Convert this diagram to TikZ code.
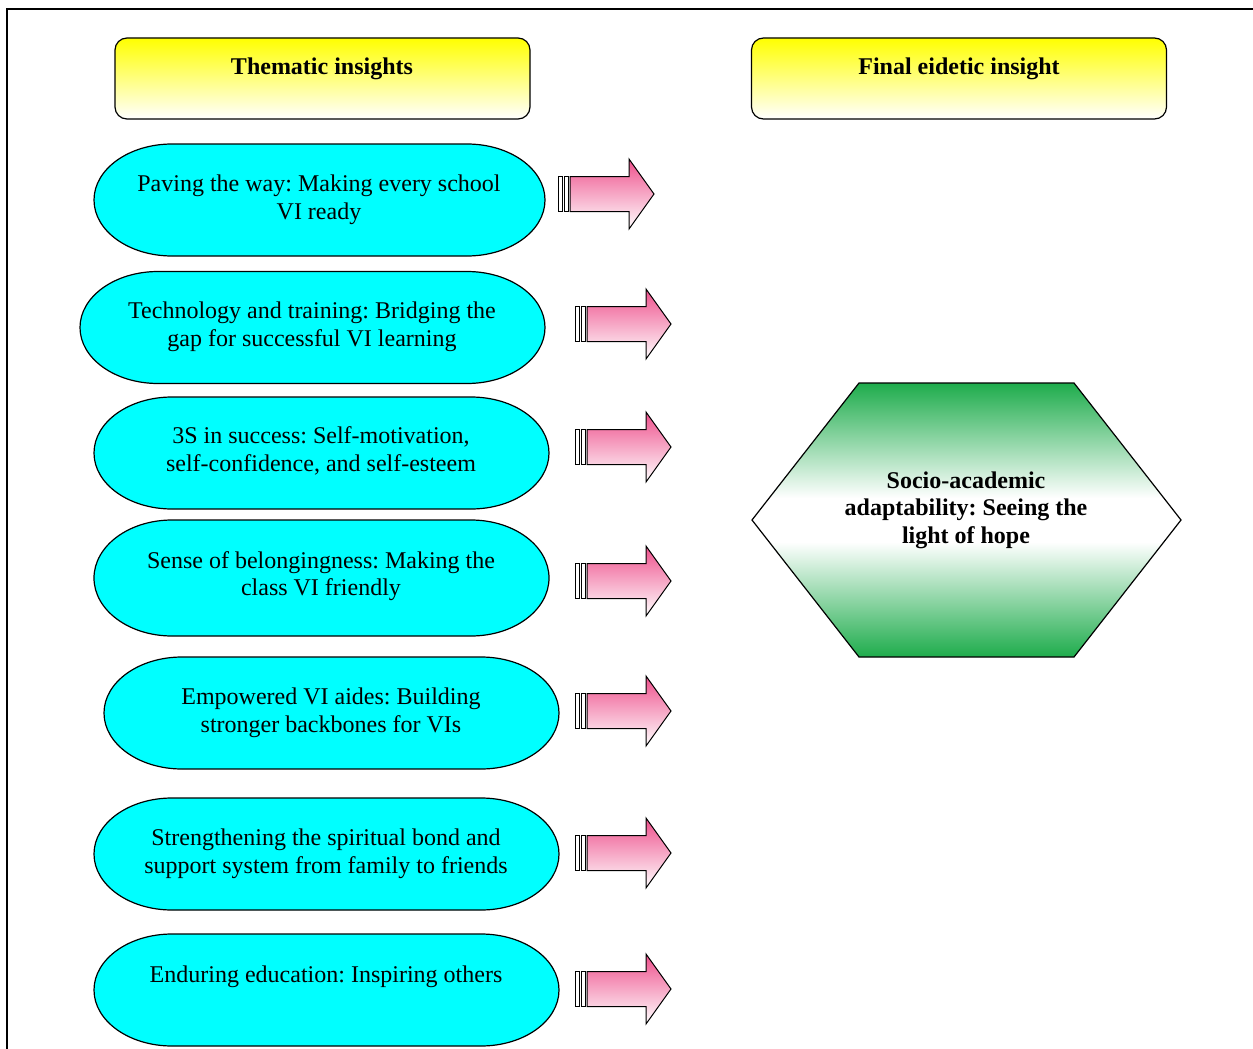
\documentclass[tikz,border=0pt]{standalone}
\usepackage{fontspec}
\setmainfont{Liberation Serif}
\frenchspacing
\definecolor{cyanfill}{RGB}{0,255,255}
\definecolor{hexgreen}{RGB}{30,172,76}
\definecolor{arrowpink}{RGB}{238,80,140}
\pgfdeclareverticalshading{hexshade}{100bp}{color(0bp)=(hexgreen); color(25bp)=(hexgreen); color(46bp)=(white); color(54bp)=(white); color(75bp)=(hexgreen); color(100bp)=(hexgreen)}
\newcommand\stadiumpath[3]{%
  \draw[stadiumline] ([xshift=78pt]#1.north west) -- ([xshift=-78pt]#1.north east)
    arc[start angle=90,end angle=-90,x radius=78pt,y radius=#2]
    -- ([xshift=78pt]#1.south west)
    arc[start angle=-90,end angle=-270,x radius=78pt,y radius=#3] -- cycle;}
\begin{document}
\begin{tikzpicture}[x=1pt,y=-1pt,
  stadiumline/.style={line width=1.2pt, fill=cyanfill},
  slot/.style={draw=none, inner sep=0pt, outer sep=0pt},
  itext/.style={align=center, inner sep=0pt, font=\fontsize{24}{27.6}\selectfont},
  htext/.style={align=center, inner sep=0pt, font=\bfseries\fontsize{24}{27.6}\selectfont},
  header/.style={draw, line width=1.2pt, rounded corners=12pt, top color=yellow, bottom color=white,
    minimum width=415pt, minimum height=81pt, inner sep=0pt},
  blockarrow/.pic={
    \shadedraw[top color=arrowpink, bottom color=white, line width=1pt]
      (12,-17.5) -- (71,-17.5) -- (71,-35) -- (96,0) -- (71,35) -- (71,17.5) -- (12,17.5) -- cycle;
    \draw[line width=1pt, fill=white] (0,-17.5) rectangle (4,17.5);
    \draw[line width=1pt, fill=white] (6,-17.5) rectangle (10,17.5);
  }]
\useasboundingbox (0,0) rectangle (1253,1049);
% frame
\draw[line width=1.5pt] (7,1049) -- (7,9) -- (1253,9);

% headers
\node[header] (h1) at (322.5,78.5) {};
\node[htext] (h1t) at (322,69) {Thematic insights};
\node[header] (h2) at (959,78.5) {};
\node[htext] (h2t) at (959,69) {Final eidetic insight};

% insight shapes
\node[slot, minimum width=451pt, minimum height=112pt] (s1) at (319.5,200) {};
\node[slot, minimum width=465pt, minimum height=112pt] (s2) at (312.5,327.5) {};
\node[slot, minimum width=455pt, minimum height=112pt] (s3) at (321.5,453) {};
\node[slot, minimum width=455pt, minimum height=116pt] (s4) at (321.5,578) {};
\node[slot, minimum width=455pt, minimum height=112pt] (s5) at (331.5,713) {};
\node[slot, minimum width=465pt, minimum height=112pt] (s6) at (326.5,854) {};
\node[slot, minimum width=465pt, minimum height=112pt] (s7) at (326.5,990) {};
\stadiumpath{s1}{56pt}{56pt}
\stadiumpath{s2}{56pt}{56pt}
\stadiumpath{s3}{56pt}{56pt}
\stadiumpath{s4}{58pt}{58pt}
\stadiumpath{s5}{56pt}{56pt}
\stadiumpath{s6}{56pt}{56pt}
\stadiumpath{s7}{56pt}{56pt}

\node[itext] (t1) at (319,200) {Paving the way: Making every school\\VI ready};
\node[itext] (t2) at (312,327) {Technology and training: Bridging the\\gap for successful VI learning};
\node[itext] (t3) at (321,451) {3S in success: Self-motivation,\\self-confidence, and self-esteem};
\node[itext] (t4) at (321,576) {Sense of belongingness: Making the\\class VI friendly};
\node[itext] (t5) at (331,713) {Empowered VI aides: Building\\stronger backbones for VIs};
\node[itext] (t6) at (326,854) {Strengthening the spiritual bond and\\support system from family to friends};
\node[itext] (t7) at (326,977) {Enduring education: Inspiring others};

% arrows
\pic (a1) at (558,194) {blockarrow};
\pic (a2) at (575,324) {blockarrow};
\pic (a3) at (575,447) {blockarrow};
\pic (a4) at (575,581) {blockarrow};
\pic (a5) at (575,711) {blockarrow};
\pic (a6) at (575,853) {blockarrow};
\pic (a7) at (575,989) {blockarrow};

% hexagon
\coordinate (hxl) at (752,520);
\coordinate (hxtl) at (859,383);
\coordinate (hxtr) at (1074,383);
\coordinate (hxr) at (1181,520);
\coordinate (hxbr) at (1074,657);
\coordinate (hxbl) at (859,657);
\shadedraw[shading=hexshade, line width=1.2pt]
  (hxl) -- (hxtl) -- (hxtr) -- (hxr) -- (hxbr) -- (hxbl) -- cycle;
\node[htext] (hx) at (966,510) {Socio-academic\\adaptability: Seeing the\\light of hope};
\end{tikzpicture}
\end{document}
